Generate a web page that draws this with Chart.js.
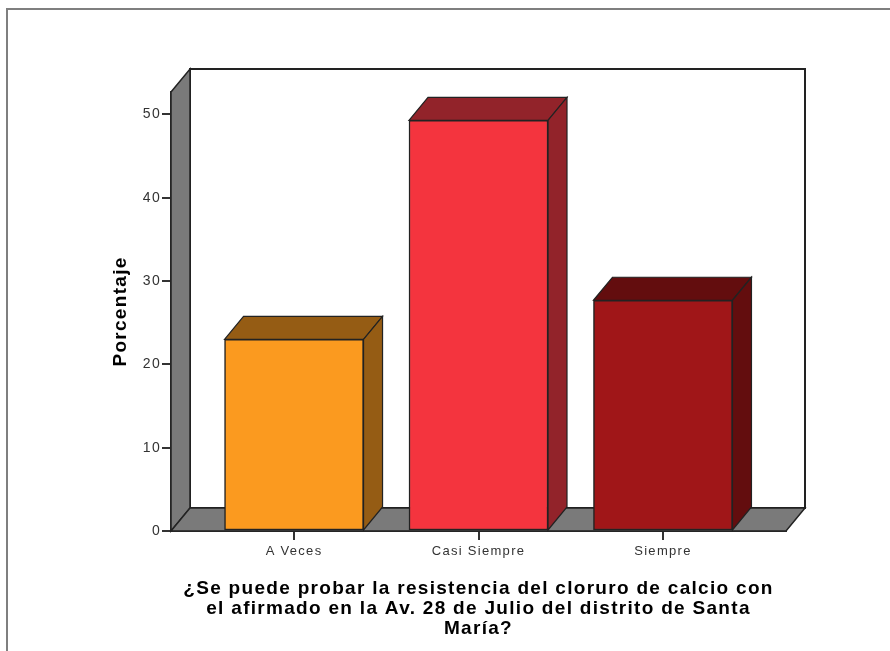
<!DOCTYPE html>
<html>
<head>
<meta charset="utf-8">
<style>
  html, body { margin: 0; padding: 0; background: #fff; width: 890px; height: 651px; overflow: hidden; }
  #chart { position: absolute; left: 0; top: 0; }
  #frame { position: absolute; left: 6px; top: 8px; right: 0; bottom: 0; border-left: 2px solid #7f7f7f; border-top: 2px solid #7f7f7f; }
</style>
<script src="https://cdn.jsdelivr.net/npm/chart.js@4/dist/chart.umd.min.js"></script>
</head>
<body>
<canvas id="chart" width="890" height="651"></canvas>
<div id="frame"></div>
<script>
const categories = ['A Veces', 'Casi Siempre', 'Siempre'];
const percentages = [23.0, 49.3, 27.7];
const frontColors = ['#FB9A1F', '#F4343E', '#A01618'];
const shadeColors = ['#955C14', '#92232A', '#630D0E'];
const yAxisTitle = 'Porcentaje';
const xAxisTitle = [
  '¿Se puede probar la resistencia del cloruro de calcio con',
  'el afirmado en la Av. 28 de Julio del distrito de Santa',
  'María?'
];

const FONT = '"Liberation Sans", Arial, sans-serif';
const DEPTH_X = 19, DEPTH_Y = 23;
const WALL = '#7a7a7a', EDGE = '#222';

function poly(ctx, pts, fill) {
  ctx.beginPath();
  pts.forEach((p, i) => i ? ctx.lineTo(p[0], p[1]) : ctx.moveTo(p[0], p[1]));
  ctx.closePath();
  ctx.fillStyle = fill;
  ctx.fill();
  ctx.stroke();
}

// Draws the box behind the bars, then the top and side faces of every bar.
const extrusion = {
  id: 'extrusion',
  beforeDraw(chart) {
    // All axis text is set with slightly open tracking.
    chart.ctx.letterSpacing = '1.3px';
  },
  beforeDatasetsDraw(chart) {
    const { ctx, chartArea: a } = chart;
    const dx = DEPTH_X, dy = DEPTH_Y;
    ctx.save();
    ctx.lineJoin = 'miter';
    ctx.strokeStyle = EDGE;
    ctx.lineWidth = 2;
    poly(ctx, [[a.left + dx, a.top - dy], [a.right + dx, a.top - dy],
               [a.right + dx, a.bottom - dy], [a.left + dx, a.bottom - dy]], '#fff');
    ctx.lineWidth = 1.5;
    poly(ctx, [[a.left, a.top], [a.left + dx, a.top - dy],
               [a.left + dx, a.bottom - dy], [a.left, a.bottom]], WALL);
    poly(ctx, [[a.left, a.bottom], [a.left + dx, a.bottom - dy],
               [a.right + dx, a.bottom - dy], [a.right, a.bottom]], WALL);
    ctx.lineWidth = 1.2;
    chart.getDatasetMeta(0).data.forEach((bar, i) => {
      const l = bar.x - bar.width / 2, r = bar.x + bar.width / 2;
      poly(ctx, [[l, bar.y], [l + dx, bar.y - dy], [r + dx, bar.y - dy], [r, bar.y]], shadeColors[i]);
      poly(ctx, [[r, bar.y], [r + dx, bar.y - dy], [r + dx, bar.base - dy], [r, bar.base]], shadeColors[i]);
    });
    ctx.restore();
  }
};

new Chart(document.getElementById('chart'), {
  type: 'bar',
  plugins: [extrusion],
  data: {
    datasets: [{
      data: percentages.map((v, i) => ({ x: i, y: v })),
      backgroundColor: frontColors,
      borderColor: EDGE,
      borderWidth: 1.5,
      borderSkipped: false,
      barThickness: 139
    }]
  },
  options: {
    responsive: false,
    animation: false,
    layout: { padding: { left: 0, top: 92, right: 104, bottom: 0 } },
    plugins: { legend: { display: false }, title: { display: false }, tooltip: { enabled: false } },
    scales: {
      x: {
        type: 'linear',
        offset: false,
        min: -0.667,
        max: 2.667,
        afterBuildTicks(s) { s.ticks = categories.map((_, i) => ({ value: i })); },
        afterFit(s) { s.height = 120; },
        grid: { offset: false, drawOnChartArea: false, drawTicks: true, tickLength: 9, color: '#333', lineWidth: 2 },
        border: { display: true, color: '#333', width: 2 },
        ticks: {
          autoSkip: false, maxRotation: 0, padding: 4,
          color: '#333', font: { family: FONT, size: 13 },
          callback: v => categories[v]
        },
        title: {
          display: true, text: xAxisTitle, color: '#000',
          font: { family: FONT, size: 19, weight: 'bold', lineHeight: 1.06 },
          padding: { top: 0, bottom: 12 }
        }
      },
      y: {
        min: 0,
        max: 52.7,
        afterFit(s) { s.width = 171; },
        grid: { drawOnChartArea: false, drawTicks: true, tickLength: 9, color: '#333', lineWidth: 2 },
        border: { display: true, color: '#333', width: 2 },
        ticks: {
          stepSize: 10, includeBounds: false, padding: 1,
          color: '#333', font: { family: FONT, size: 14 }
        },
        title: {
          display: true, text: yAxisTitle, color: '#000',
          font: { family: FONT, size: 19, weight: 'bold' },
          padding: { top: 109, bottom: 0 }
        }
      }
    }
  }
});
</script>
</body>
</html>
